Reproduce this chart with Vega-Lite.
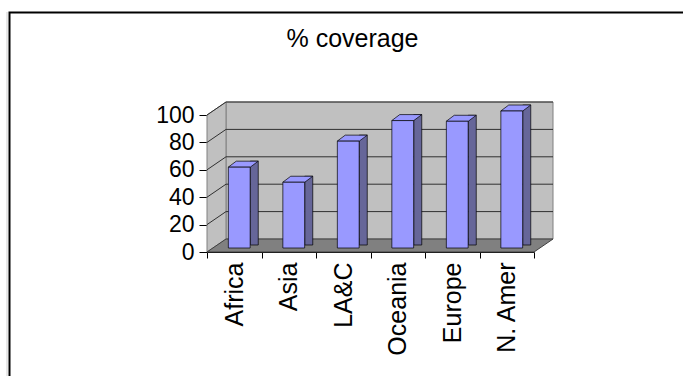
{
  "$schema": "https://vega.github.io/schema/vega-lite/v6.json",
  "autosize": {"type": "none"},
  "padding": {"left": 207, "top": 115, "right": 149, "bottom": 124},
  "width": 327,
  "height": 137,
  "background": "white",
  "config": {
    "view": {"stroke": null},
    "font": "Liberation Sans"
  },
  "title": {
    "text": "% coverage",
    "fontSize": 25,
    "fontWeight": "normal",
    "font": "Liberation Sans",
    "color": "black",
    "anchor": "middle",
    "dx": -18,
    "offset": -43
  },
  "resolve": {"axis": {"y": "independent"}},
  "datasets": {
    "main": [
      {"region": "Africa", "coverage": 59},
      {"region": "Asia", "coverage": 48},
      {"region": "LA&C", "coverage": 78},
      {"region": "Oceania", "coverage": 93},
      {"region": "Europe", "coverage": 92.5},
      {"region": "N. Amer", "coverage": 100}
    ],
    "grid": [{"g": 20}, {"g": 40}, {"g": 60}, {"g": 80}, {"g": 100}],
    "one": [{"k": 1}]
  },
  "layer": [
    {
      "data": {"name": "one"},
      "mark": {"type": "point", "shape": "M-200,-240L-200,200", "size": 4, "filled": false, "stroke": "#d0d0d0", "strokeWidth": 1, "opacity": 1},
      "encoding": {
        "x": {"datum": "Africa", "type": "nominal", "bandPosition": 0,
          "scale": {"domain": ["Africa", "Asia", "LA&C", "Oceania", "Europe", "N. Amer"], "paddingInner": 0, "paddingOuter": 0},
          "axis": {
            "title": null, "labelAngle": -90, "labelFontSize": 25, "labelColor": "black", "labelFont": "Liberation Sans",
            "domainColor": "black", "domainWidth": 1, "tickColor": "black", "tickSize": 6, "tickBand": "extent",
            "labelPadding": 4, "grid": false, "labelOverlap": false, "labelBound": false
          }
        },
        "y": {"datum": 0, "type": "quantitative", "scale": {"domain": [0, 100], "nice": false, "zero": true}, "axis": null}
      }
    },
    {
      "data": {"name": "one"},
      "mark": {"type": "point", "shape": "M-197.5,200L-197.5,-239.5L500,-239.5", "size": 4, "filled": false, "stroke": "black", "strokeWidth": 2, "opacity": 1},
      "encoding": {
        "x": {"datum": "Africa", "type": "nominal", "bandPosition": 0},
        "y": {"datum": 0, "type": "quantitative", "axis": null}
      }
    },
    {
      "data": {"name": "one"},
      "mark": {"type": "point", "shape": "M19,-13L346,-13L346,-150L19,-150Z", "size": 4, "filled": true, "fill": "#c0c0c0", "stroke": "#808080", "strokeWidth": 1, "opacity": 1},
      "encoding": {
        "x": {"datum": "Africa", "type": "nominal", "bandPosition": 0},
        "y": {"datum": 0, "type": "quantitative", "axis": null}
      }
    },
    {
      "data": {"name": "one"},
      "mark": {"type": "point", "shape": "M0,0L0,-137L19,-150L19,-13Z", "size": 4, "filled": true, "fill": "#c0c0c0", "stroke": "#808080", "strokeWidth": 1, "opacity": 1},
      "encoding": {
        "x": {"datum": "Africa", "type": "nominal", "bandPosition": 0},
        "y": {"datum": 0, "type": "quantitative", "axis": null}
      }
    },
    {
      "data": {"name": "grid"},
      "mark": {"type": "point", "shape": "M0,0L19,-13L346,-13", "size": 4, "filled": false, "stroke": "#303030", "strokeWidth": 1, "opacity": 1},
      "encoding": {
        "x": {"datum": "Africa", "type": "nominal", "bandPosition": 0},
        "y": {"field": "g", "type": "quantitative", "axis": null}
      }
    },
    {
      "data": {"name": "one"},
      "mark": {"type": "point", "shape": "M0,0L327,0L346,-13L19,-13Z", "size": 4, "filled": true, "fill": "#808080", "stroke": "#404040", "strokeWidth": 1, "opacity": 1},
      "encoding": {
        "x": {"datum": "Africa", "type": "nominal", "bandPosition": 0},
        "y": {"datum": 0, "type": "quantitative", "axis": null}
      }
    },
    {
      "data": {"name": "main"},
      "mark": {"type": "bar", "width": 8, "xOffset": 20, "yOffset": -10, "y2Offset": -7, "fill": "#666699", "stroke": "black", "strokeWidth": 0.7},
      "encoding": {
        "x": {"field": "region", "type": "nominal", "sort": null},
        "y": {"field": "coverage", "type": "quantitative", "axis": null},
        "y2": {"datum": 0}
      }
    },
    {
      "data": {"name": "main"},
      "mark": {"type": "point", "shape": "M-6,-4L16,-4L24,-10L2,-10Z", "size": 4, "filled": true, "fill": "#9999ff", "stroke": "black", "strokeWidth": 0.7, "opacity": 1},
      "encoding": {
        "x": {"field": "region", "type": "nominal", "sort": null},
        "y": {"field": "coverage", "type": "quantitative", "axis": null}
      }
    },
    {
      "data": {"name": "main"},
      "mark": {"type": "bar", "width": {"band": 0.4}, "xOffset": 5, "yOffset": -4, "y2Offset": -4, "fill": "#9999ff", "stroke": "black", "strokeWidth": 0.7},
      "encoding": {
        "x": {"field": "region", "type": "nominal", "sort": null},
        "y": {
          "field": "coverage", "type": "quantitative",
          "axis": {
            "title": null, "values": [0, 20, 40, 60, 80, 100], "labelFontSize": 23, "labelColor": "black", "labelFont": "Liberation Sans",
            "domainColor": "black", "domainWidth": 1, "tickColor": "black", "tickSize": 8, "labelPadding": 5, "grid": false,
            "labelOverlap": false, "labelBound": false, "labelFlush": false
          }
        },
        "y2": {"datum": 0}
      }
    }
  ]
}
